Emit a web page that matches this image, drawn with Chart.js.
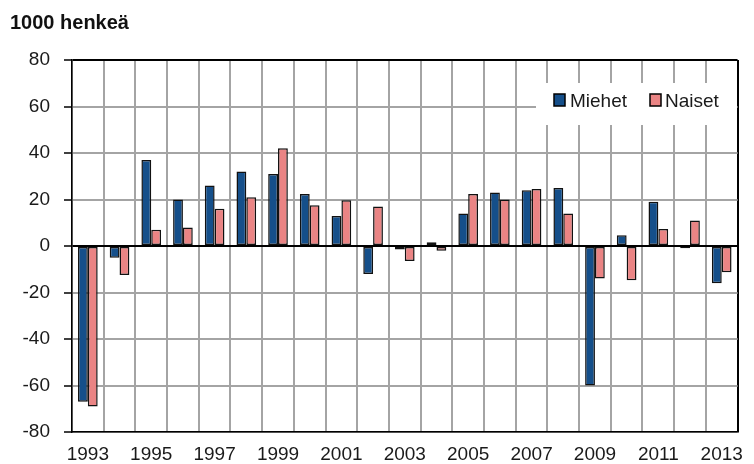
<!DOCTYPE html>
<html>
<head>
<meta charset="utf-8">
<script src="https://cdn.jsdelivr.net/npm/chart.js@4.4.1/dist/chart.umd.min.js"></script>
<style>
  html, body { margin: 0; padding: 0; background: #fff; }
  #wrap { width: 754px; height: 464px; }
</style>
</head>
<body>
<div id="wrap"><canvas id="myChart" width="754" height="464"></canvas></div>
<script>
const vuodet = ["1993","1994","1995","1996","1997","1998","1999","2000","2001","2002","2003",
                "2004","2005","2006","2007","2008","2009","2010","2011","2012","2013"];
const miehet = [-67, -5, 37, 20, 26, 32, 31, 22.4, 12.9, -12, -1.5,
                1.6, 14, 23, 24, 25, -60, 4.6, 19, -1, -16];
const naiset = [-69, -12.5, 7, 8, 16, 21, 42, 17.5, 19.7, 17, -6.5,
                -2, 22.4, 20, 24.5, 14, -14, -14.7, 7.3, 11, -11.3];
const yTicks = [-80, -60, -40, -20, 0, 20, 40, 60, 80];

const SININEN = '#154f8a';
const PUNAINEN = '#ea8484';
const HARMAA = '#a4a4a4';
const FONTTI = "'Liberation Sans', Arial, sans-serif";

// selite piirretaan itse, valkoinen laatikko ruudukon paalle
const selite = {
    id: 'selite',
    afterDatasetsDraw(chart) {
        const ctx = chart.ctx;
        ctx.save();
        ctx.fillStyle = '#fff';
        ctx.fillRect(536, 83, 201, 42);
        ctx.font = "19px " + FONTTI;
        ctx.textBaseline = 'alphabetic';
        const paikat = [[554, 570], [650, 665]];
        chart.data.datasets.forEach((ds, i) => {
            const [bx, tx] = paikat[i];
            ctx.fillStyle = ds.backgroundColor;
            ctx.fillRect(bx, 94, 11, 12);
            ctx.strokeStyle = '#000';
            ctx.lineWidth = 1.5;
            ctx.strokeRect(bx, 94, 11, 12);
            ctx.fillStyle = '#1a1a1a';
            ctx.fillText(ds.label, tx, 107);
        });
        ctx.restore();
    }
};

const data = {
    labels: vuodet,
    datasets: [
        { label: 'Miehet', data: miehet, backgroundColor: SININEN, borderColor: '#111', borderWidth: 1.5, borderSkipped: false },
        { label: 'Naiset', data: naiset, backgroundColor: PUNAINEN, borderColor: '#111', borderWidth: 1.5, borderSkipped: false }
    ]
};

const config = {
    type: 'bar',
    data: data,
    plugins: [selite],
    options: {
        responsive: false,
        animation: false,
        devicePixelRatio: 1,
        categoryPercentage: 0.62,
        barPercentage: 1.0,
        layout: { padding: { left: 10, right: 6, top: 0, bottom: 0 } },
        plugins: {
            legend: { display: false },
            tooltip: { enabled: false },
            title: {
                display: true,
                text: '1000 henkeä',
                align: 'start',
                color: '#111',
                font: { family: FONTTI, size: 20, weight: 'bold' },
                padding: { top: 11, bottom: 25 }
            }
        },
        scales: {
            x: {
                offset: true,
                grid: {
                    offset: true,
                    drawTicks: false,
                    lineWidth: 2,
                    color: (c) => c.type === 'scale' ? '#000' : HARMAA
                },
                border: { color: '#000', width: 1.5 },
                ticks: {
                    autoSkip: false,
                    maxRotation: 0,
                    padding: 11,
                    color: '#1a1a1a',
                    font: { family: FONTTI, size: 19 },
                    callback: (v, i) => (i % 2 === 0 ? vuodet[i] : '')
                },
                afterFit: (s) => { s.height = 32; }
            },
            y: {
                min: -80,
                max: 80,
                afterBuildTicks: (s) => { s.ticks = yTicks.map((v) => ({ value: v })); },
                grid: {
                    lineWidth: 2,
                    tickLength: 8,
                    tickColor: '#000',
                    tickWidth: 1.5,
                    color: (c) => (c.tick && (c.tick.value === 0 || c.tick.value === 80)) ? '#000' : HARMAA
                },
                border: { color: '#000', width: 1.5 },
                ticks: {
                    padding: 14,
                    color: '#1a1a1a',
                    font: { family: FONTTI, size: 19 }
                },
                afterFit: (s) => { s.width = 62; }
            }
        }
    }
};

const myChart = new Chart(document.getElementById('myChart'), config);
</script>
</body>
</html>
